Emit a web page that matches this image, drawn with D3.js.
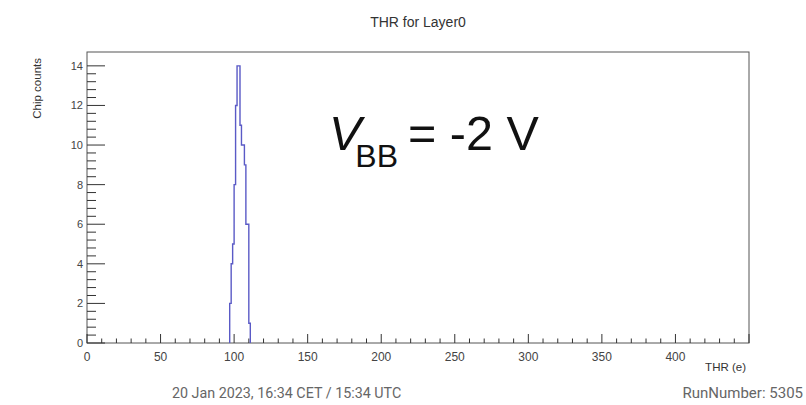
<!DOCTYPE html>
<html>
<head>
<meta charset="utf-8">
<script src="https://cdn.jsdelivr.net/npm/d3@7"></script>
<style>
  body { margin: 0; background: #fff; }
  svg text { font-family: "Liberation Sans", Arial, sans-serif; }
</style>
</head>
<body>
<svg class="chart"></svg>
<script>
// histogram bins (lower edge, width 1) and counts
var binEdges = [97, 98, 99, 100, 101, 102, 103, 104, 105, 106, 107, 108, 109, 110];
var counts   = [2, 4, 5, 8, 12, 14, 14, 11, 10, 10, 9, 6, 6, 1];
var binWidth = 1;

// tick values
var xTicks = [0, 50, 100, 150, 200, 250, 300, 350, 400];
var yTicks = [0, 2, 4, 6, 8, 10, 12, 14];

// define margins
var W = 806, H = 405;
var margin = {top: 52, right: 57, bottom: 62, left: 87},
  width = W - margin.left - margin.right,
  height = H - margin.top - margin.bottom;

var svg = d3.select(".chart")
  .attr("width", W)
  .attr("height", H);

// x & y scales
var x = d3.scaleLinear().domain([0, 450]).range([0, width]);
var y = d3.scaleLinear().domain([0, 14.7]).range([height, 0]);

var chart = svg.append("g")
  .attr("transform", "translate(" + margin.left + "," + margin.top + ")");

// frame
chart.append("rect")
  .attr("width", width)
  .attr("height", height)
  .attr("fill", "none")
  .attr("stroke", "#555")
  .attr("stroke-width", 1);

// x minor / major ticks
var xMinor = d3.range(0, 451, 10);
chart.selectAll(".xtick")
  .data(xMinor)
  .enter().append("line")
  .attr("x1", function(d) { return x(d); })
  .attr("x2", function(d) { return x(d); })
  .attr("y1", height)
  .attr("y2", function(d) { return d % 50 === 0 ? height - 9 : height - 4.5; })
  .attr("stroke", "#333");

chart.selectAll(".xlabel")
  .data(xTicks)
  .enter().append("text")
  .attr("x", function(d) { return x(d); })
  .attr("y", height + 18)
  .style("text-anchor", "middle")
  .style("font-size", "12px")
  .style("fill", "#444")
  .text(function(d) { return d; });

// y minor / major ticks
var yMinor = d3.range(0, 36).map(function(i) { return i * 0.4; });
chart.selectAll(".ytick")
  .data(yMinor)
  .enter().append("line")
  .attr("y1", function(d) { return y(d); })
  .attr("y2", function(d) { return y(d); })
  .attr("x1", 0)
  .attr("x2", function(d) { return Math.abs(d / 2 - Math.round(d / 2)) < 1e-6 ? 18 : 9; })
  .attr("stroke", "#333");

chart.selectAll(".ylabel")
  .data(yTicks)
  .enter().append("text")
  .attr("x", -4)
  .attr("y", function(d) { return y(d) + 4; })
  .style("text-anchor", "end")
  .style("font-size", "11px")
  .style("fill", "#444")
  .text(function(d) { return d; });

// histogram outline
var pts = [[x(binEdges[0]), y(0)]];
binEdges.forEach(function(e, i) {
  pts.push([x(e), y(counts[i])]);
  pts.push([x(e + binWidth), y(counts[i])]);
});
pts.push([x(binEdges[binEdges.length - 1] + binWidth), y(0)]);

chart.append("path")
  .attr("d", d3.line()(pts))
  .attr("fill", "none")
  .attr("stroke", "#5a5ac6")
  .attr("stroke-width", 1.4);

// title
svg.append("text")
  .attr("x", 418)
  .attr("y", 27)
  .style("text-anchor", "middle")
  .style("font-size", "14px")
  .style("fill", "#333")
  .text("THR for Layer0");

// y-axis label
svg.append("text")
  .attr("transform", "translate(41,58) rotate(-90)")
  .style("text-anchor", "end")
  .style("font-size", "11.5px")
  .style("fill", "#333")
  .text("Chip counts");

// x-axis label
svg.append("text")
  .attr("x", 746)
  .attr("y", 371)
  .style("text-anchor", "end")
  .style("font-size", "11.5px")
  .style("fill", "#333")
  .text("THR (e)");

// annotation V_BB = -2 V
var ann = svg.append("text")
  .attr("x", 329)
  .attr("y", 150)
  .style("font-size", "48.5px")
  .style("fill", "#111");
ann.append("tspan").style("font-style", "italic").text("V");
ann.append("tspan").attr("dx", -6).attr("dy", 17).style("font-size", "32px").text("BB");
ann.append("tspan").attr("dy", -17).attr("dx", 10).text("= -2 V");

// footer texts
svg.append("text")
  .attr("x", 172)
  .attr("y", 398)
  .style("font-family", "Roboto, sans-serif")
  .style("font-size", "14.3px")
  .style("fill", "#666")
  .text("20 Jan 2023, 16:34 CET / 15:34 UTC");

svg.append("text")
  .attr("x", 803)
  .attr("y", 398)
  .style("text-anchor", "end")
  .style("font-family", "Roboto, sans-serif")
  .style("font-size", "15px")
  .style("fill", "#666")
  .text("RunNumber: 5305");
</script>
</body>
</html>
